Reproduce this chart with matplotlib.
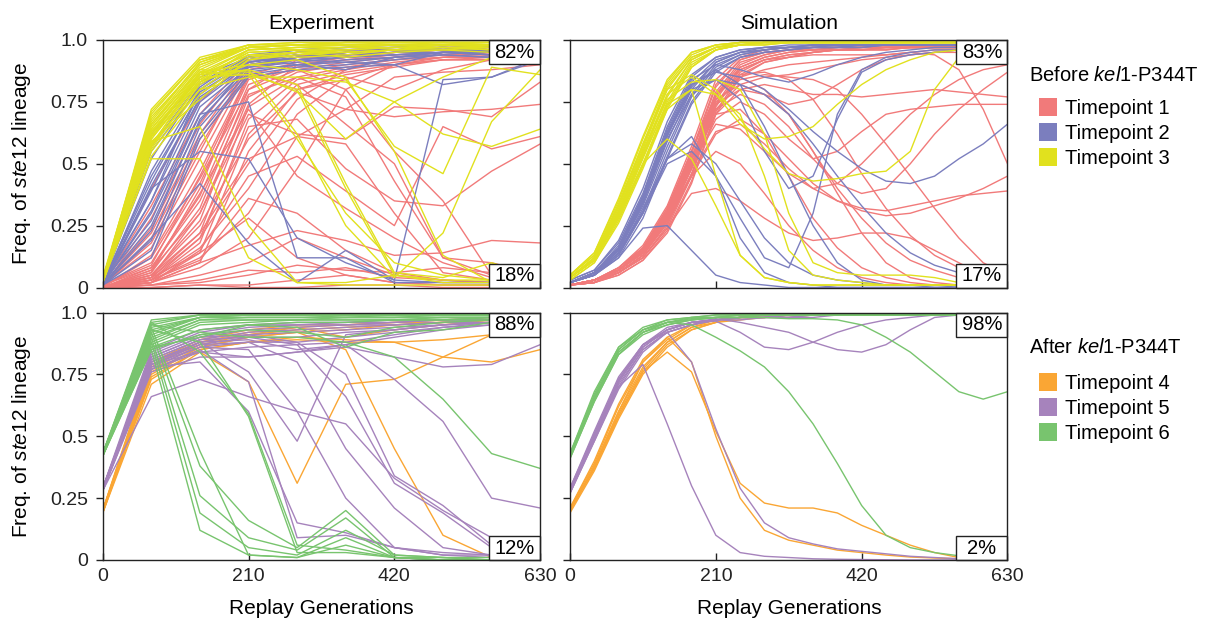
import matplotlib.pyplot as plt
from matplotlib.patches import Rectangle

plt.rcParams['font.family'] = ['Liberation Sans', 'DejaVu Sans']
plt.rcParams['mathtext.fontset'] = 'custom'
plt.rcParams['mathtext.rm'] = 'Liberation Sans'
plt.rcParams['mathtext.it'] = 'Liberation Sans:italic'

# ---------------- data ----------------
gens_exp = [0, 70, 140, 210, 280, 350, 420, 490, 560, 630]
gens_sim = [0, 35, 70, 105, 140, 175, 210, 245, 280, 315, 350, 385, 420, 455, 490, 525, 560, 595, 630]

# Before kel1-P344T, experiment
exp_tp1 = [
    [0.01, 0.40, 0.75, 0.93, 0.95, 0.96, 0.97, 0.97, 0.97, 0.97],
    [0.01, 0.33, 0.70, 0.92, 0.95, 0.96, 0.96, 0.97, 0.97, 0.96],
    [0.00, 0.28, 0.66, 0.91, 0.94, 0.95, 0.96, 0.97, 0.96, 0.96],
    [0.01, 0.24, 0.62, 0.90, 0.93, 0.95, 0.96, 0.96, 0.96, 0.95],
    [0.00, 0.20, 0.57, 0.89, 0.93, 0.94, 0.95, 0.96, 0.96, 0.95],
    [0.01, 0.16, 0.52, 0.88, 0.92, 0.94, 0.95, 0.96, 0.95, 0.95],
    [0.00, 0.13, 0.47, 0.86, 0.91, 0.93, 0.94, 0.95, 0.95, 0.94],
    [0.01, 0.10, 0.42, 0.84, 0.90, 0.92, 0.94, 0.95, 0.95, 0.94],
    [0.00, 0.08, 0.37, 0.82, 0.89, 0.92, 0.93, 0.95, 0.94, 0.93],
    [0.00, 0.06, 0.32, 0.80, 0.88, 0.91, 0.93, 0.94, 0.94, 0.93],
    [0.00, 0.05, 0.27, 0.77, 0.87, 0.90, 0.92, 0.94, 0.94, 0.93],
    [0.00, 0.04, 0.22, 0.73, 0.85, 0.89, 0.92, 0.93, 0.93, 0.92],
    [0.00, 0.03, 0.18, 0.68, 0.84, 0.88, 0.91, 0.93, 0.93, 0.92],
    [0.00, 0.02, 0.14, 0.62, 0.82, 0.87, 0.90, 0.92, 0.92, 0.91],
    [0.00, 0.02, 0.10, 0.55, 0.80, 0.86, 0.89, 0.92, 0.92, 0.91],
    [0.00, 0.12, 0.44, 0.80, 0.92, 0.95, 0.96, 0.96, 0.97, 0.96],
    [0.01, 0.18, 0.55, 0.91, 0.94, 0.93, 0.95, 0.96, 0.96, 0.95],
    [0.00, 0.07, 0.30, 0.74, 0.90, 0.93, 0.95, 0.96, 0.96, 0.95],
    [0.00, 0.04, 0.20, 0.50, 0.76, 0.88, 0.93, 0.95, 0.95, 0.94],
    [0.01, 0.22, 0.60, 0.86, 0.80, 0.84, 0.90, 0.93, 0.95, 0.95],
    [0.00, 0.05, 0.25, 0.60, 0.79, 0.72, 0.69, 0.71, 0.72, 0.74],
    [0.00, 0.04, 0.30, 0.70, 0.62, 0.60, 0.73, 0.72, 0.69, 0.83],
    [0.01, 0.08, 0.35, 0.78, 0.85, 0.77, 0.43, 0.12, 0.10, 0.05],
    [0.00, 0.03, 0.20, 0.65, 0.68, 0.48, 0.35, 0.33, 0.47, 0.58],
    [0.00, 0.06, 0.40, 0.87, 0.82, 0.66, 0.50, 0.12, 0.05, 0.04],
    [0.00, 0.02, 0.15, 0.45, 0.53, 0.39, 0.25, 0.65, 0.56, 0.61],
    [0.00, 0.03, 0.12, 0.30, 0.61, 0.72, 0.85, 0.87, 0.88, 0.90],
    [0.00, 0.02, 0.08, 0.20, 0.48, 0.80, 0.90, 0.92, 0.93, 0.94],
    [0.00, 0.03, 0.16, 0.40, 0.70, 0.85, 0.80, 0.88, 0.92, 0.93],
    [0.00, 0.02, 0.10, 0.17, 0.23, 0.19, 0.13, 0.14, 0.19, 0.18],
    [0.00, 0.01, 0.05, 0.10, 0.20, 0.12, 0.05, 0.03, 0.02, 0.02],
    [0.00, 0.01, 0.03, 0.07, 0.06, 0.08, 0.04, 0.03, 0.02, 0.03],
    [0.00, 0.00, 0.01, 0.01, 0.03, 0.05, 0.02, 0.01, 0.01, 0.01],
    [0.00, 0.00, 0.01, 0.00, 0.00, 0.01, 0.01, 0.00, 0.00, 0.00],
    [0.00, 0.01, 0.02, 0.05, 0.09, 0.07, 0.06, 0.08, 0.06, 0.05],
    [0.00, 0.04, 0.14, 0.28, 0.12, 0.05, 0.02, 0.01, 0.01, 0.01],
    [0.01, 0.09, 0.45, 0.85, 0.88, 0.80, 0.55, 0.35, 0.05, 0.03],
    [0.00, 0.07, 0.38, 0.72, 0.45, 0.32, 0.20, 0.10, 0.04, 0.02],
    [0.00, 0.05, 0.22, 0.52, 0.61, 0.58, 0.30, 0.06, 0.03, 0.02],
    [0.00, 0.03, 0.11, 0.36, 0.30, 0.15, 0.06, 0.03, 0.02, 0.01],
]
exp_tp2 = [
    [0.02, 0.62, 0.85, 0.93, 0.96, 0.97, 0.97, 0.98, 0.97, 0.97],
    [0.03, 0.57, 0.83, 0.93, 0.95, 0.96, 0.97, 0.97, 0.97, 0.96],
    [0.02, 0.52, 0.82, 0.92, 0.95, 0.96, 0.96, 0.97, 0.96, 0.96],
    [0.01, 0.47, 0.80, 0.92, 0.94, 0.95, 0.96, 0.97, 0.96, 0.95],
    [0.02, 0.43, 0.79, 0.91, 0.93, 0.95, 0.96, 0.96, 0.95, 0.95],
    [0.01, 0.39, 0.77, 0.90, 0.93, 0.94, 0.95, 0.96, 0.95, 0.94],
    [0.02, 0.35, 0.75, 0.90, 0.92, 0.94, 0.95, 0.95, 0.95, 0.94],
    [0.01, 0.31, 0.73, 0.89, 0.92, 0.93, 0.94, 0.95, 0.94, 0.94],
    [0.02, 0.27, 0.70, 0.89, 0.91, 0.93, 0.94, 0.95, 0.94, 0.93],
    [0.01, 0.23, 0.68, 0.88, 0.90, 0.92, 0.93, 0.95, 0.94, 0.93],
    [0.01, 0.19, 0.65, 0.87, 0.90, 0.91, 0.93, 0.94, 0.93, 0.92],
    [0.01, 0.15, 0.62, 0.86, 0.89, 0.90, 0.92, 0.94, 0.93, 0.92],
    [0.01, 0.12, 0.60, 0.85, 0.88, 0.89, 0.90, 0.95, 0.96, 0.97],
    [0.02, 0.55, 0.81, 0.94, 0.96, 0.97, 0.98, 0.98, 0.97, 0.97],
    [0.01, 0.41, 0.76, 0.91, 0.94, 0.95, 0.96, 0.96, 0.96, 0.96],
    [0.01, 0.25, 0.67, 0.90, 0.93, 0.95, 0.96, 0.97, 0.96, 0.95],
    [0.02, 0.40, 0.55, 0.52, 0.20, 0.10, 0.03, 0.84, 0.85, 0.93],
    [0.01, 0.30, 0.70, 0.75, 0.12, 0.12, 0.02, 0.02, 0.02, 0.02],
    [0.01, 0.20, 0.42, 0.18, 0.02, 0.15, 0.03, 0.02, 0.02, 0.02],
    [0.02, 0.45, 0.78, 0.92, 0.92, 0.91, 0.90, 0.82, 0.85, 0.92],
    [0.01, 0.35, 0.80, 0.93, 0.90, 0.88, 0.93, 0.95, 0.96, 0.97],
]
exp_tp3 = [
    [0.03, 0.72, 0.93, 0.98, 0.99, 0.99, 0.99, 0.99, 0.99, 0.99],
    [0.04, 0.70, 0.92, 0.98, 0.99, 0.99, 0.99, 0.99, 0.99, 0.99],
    [0.03, 0.68, 0.91, 0.98, 0.98, 0.99, 0.99, 0.99, 0.99, 0.99],
    [0.02, 0.66, 0.90, 0.97, 0.98, 0.99, 0.99, 0.99, 0.99, 0.99],
    [0.03, 0.65, 0.89, 0.97, 0.98, 0.98, 0.99, 0.99, 0.98, 0.98],
    [0.02, 0.64, 0.88, 0.97, 0.98, 0.98, 0.98, 0.98, 0.98, 0.98],
    [0.04, 0.62, 0.87, 0.96, 0.97, 0.98, 0.98, 0.98, 0.98, 0.98],
    [0.03, 0.61, 0.86, 0.96, 0.97, 0.97, 0.98, 0.98, 0.98, 0.97],
    [0.02, 0.60, 0.85, 0.95, 0.96, 0.97, 0.97, 0.98, 0.97, 0.97],
    [0.03, 0.58, 0.84, 0.95, 0.96, 0.96, 0.97, 0.97, 0.97, 0.97],
    [0.02, 0.57, 0.82, 0.94, 0.95, 0.96, 0.97, 0.97, 0.96, 0.96],
    [0.03, 0.55, 0.80, 0.93, 0.95, 0.95, 0.96, 0.97, 0.96, 0.96],
    [0.02, 0.53, 0.78, 0.92, 0.94, 0.95, 0.96, 0.96, 0.95, 0.95],
    [0.03, 0.67, 0.91, 0.97, 0.96, 0.95, 0.96, 0.98, 0.98, 0.98],
    [0.02, 0.63, 0.86, 0.94, 0.93, 0.94, 0.96, 0.97, 0.97, 0.96],
    [0.03, 0.59, 0.76, 0.92, 0.95, 0.93, 0.95, 0.96, 0.97, 0.97],
    [0.03, 0.71, 0.92, 0.97, 0.98, 0.99, 0.99, 0.99, 0.98, 0.98],
    [0.02, 0.69, 0.90, 0.97, 0.98, 0.98, 0.98, 0.99, 0.99, 0.98],
    [0.03, 0.56, 0.83, 0.96, 0.97, 0.97, 0.98, 0.98, 0.97, 0.97],
    [0.03, 0.52, 0.52, 0.12, 0.02, 0.01, 0.01, 0.01, 0.01, 0.01],
    [0.03, 0.59, 0.65, 0.25, 0.02, 0.02, 0.05, 0.03, 0.03, 0.03],
    [0.03, 0.66, 0.88, 0.87, 0.79, 0.60, 0.75, 0.85, 0.93, 0.97],
    [0.03, 0.64, 0.87, 0.90, 0.88, 0.84, 0.57, 0.46, 0.89, 0.86],
    [0.02, 0.60, 0.84, 0.88, 0.62, 0.25, 0.04, 0.22, 0.67, 0.88],
    [0.03, 0.58, 0.80, 0.85, 0.85, 0.83, 0.75, 0.62, 0.57, 0.64],
    [0.03, 0.62, 0.86, 0.88, 0.82, 0.42, 0.06, 0.04, 0.10, 0.04],
    [0.02, 0.57, 0.87, 0.86, 0.60, 0.30, 0.10, 0.05, 0.03, 0.03],
    [0.03, 0.61, 0.83, 0.90, 0.92, 0.85, 0.55, 0.13, 0.02, 0.02],
    [0.03, 0.63, 0.85, 0.86, 0.80, 0.40, 0.05, 0.02, 0.02, 0.02],
]

# Before kel1-P344T, simulation
sim_tp1 = [
    [0.01, 0.03, 0.08, 0.17, 0.33, 0.57, 0.84, 0.93, 0.96, 0.97, 0.97, 0.97, 0.97, 0.97, 0.97, 0.97, 0.97, 0.97, 0.97],
    [0.01, 0.03, 0.08, 0.16, 0.31, 0.55, 0.82, 0.92, 0.95, 0.96, 0.97, 0.97, 0.97, 0.97, 0.97, 0.97, 0.97, 0.97, 0.97],
    [0.01, 0.03, 0.07, 0.15, 0.30, 0.54, 0.81, 0.92, 0.95, 0.96, 0.97, 0.97, 0.97, 0.97, 0.97, 0.97, 0.97, 0.97, 0.97],
    [0.01, 0.03, 0.07, 0.14, 0.29, 0.52, 0.79, 0.91, 0.94, 0.96, 0.96, 0.97, 0.97, 0.97, 0.97, 0.97, 0.97, 0.97, 0.97],
    [0.01, 0.03, 0.07, 0.14, 0.28, 0.51, 0.78, 0.90, 0.94, 0.96, 0.96, 0.97, 0.97, 0.97, 0.97, 0.97, 0.97, 0.97, 0.97],
    [0.01, 0.02, 0.06, 0.13, 0.27, 0.49, 0.77, 0.89, 0.93, 0.95, 0.96, 0.96, 0.97, 0.97, 0.97, 0.97, 0.97, 0.97, 0.97],
    [0.01, 0.02, 0.06, 0.13, 0.26, 0.48, 0.76, 0.89, 0.93, 0.95, 0.96, 0.96, 0.97, 0.97, 0.97, 0.97, 0.97, 0.97, 0.97],
    [0.01, 0.02, 0.06, 0.12, 0.25, 0.46, 0.74, 0.88, 0.92, 0.94, 0.95, 0.96, 0.96, 0.97, 0.97, 0.97, 0.97, 0.97, 0.97],
    [0.01, 0.02, 0.06, 0.12, 0.24, 0.45, 0.73, 0.87, 0.92, 0.94, 0.95, 0.96, 0.96, 0.97, 0.97, 0.97, 0.97, 0.97, 0.97],
    [0.01, 0.02, 0.05, 0.11, 0.23, 0.43, 0.71, 0.86, 0.91, 0.93, 0.95, 0.96, 0.96, 0.96, 0.97, 0.97, 0.97, 0.97, 0.97],
    [0.01, 0.02, 0.05, 0.11, 0.22, 0.42, 0.70, 0.85, 0.91, 0.93, 0.95, 0.96, 0.96, 0.96, 0.97, 0.97, 0.97, 0.97, 0.97],
    [0.01, 0.03, 0.07, 0.16, 0.32, 0.55, 0.78, 0.88, 0.92, 0.93, 0.94, 0.94, 0.94, 0.94, 0.95, 0.94, 0.88, 0.72, 0.50],
    [0.01, 0.03, 0.07, 0.15, 0.30, 0.52, 0.72, 0.78, 0.74, 0.65, 0.52, 0.42, 0.38, 0.40, 0.50, 0.62, 0.72, 0.80, 0.87],
    [0.01, 0.03, 0.07, 0.15, 0.29, 0.50, 0.70, 0.80, 0.82, 0.80, 0.78, 0.78, 0.77, 0.78, 0.79, 0.80, 0.79, 0.78, 0.77],
    [0.01, 0.03, 0.07, 0.14, 0.28, 0.48, 0.68, 0.75, 0.70, 0.60, 0.52, 0.55, 0.63, 0.70, 0.72, 0.73, 0.74, 0.74, 0.74],
    [0.01, 0.03, 0.06, 0.13, 0.26, 0.45, 0.62, 0.68, 0.62, 0.52, 0.42, 0.35, 0.31, 0.29, 0.30, 0.33, 0.36, 0.40, 0.45],
    [0.01, 0.03, 0.06, 0.13, 0.27, 0.46, 0.63, 0.66, 0.58, 0.48, 0.40, 0.35, 0.32, 0.31, 0.33, 0.35, 0.37, 0.38, 0.39],
    [0.01, 0.02, 0.06, 0.12, 0.24, 0.38, 0.40, 0.35, 0.28, 0.22, 0.19, 0.20, 0.22, 0.22, 0.20, 0.15, 0.10, 0.05, 0.03],
    [0.01, 0.03, 0.07, 0.14, 0.28, 0.45, 0.55, 0.50, 0.38, 0.25, 0.15, 0.08, 0.04, 0.02, 0.01, 0.01, 0.01, 0.01, 0.01],
    [0.01, 0.03, 0.07, 0.15, 0.30, 0.52, 0.70, 0.72, 0.62, 0.45, 0.28, 0.16, 0.08, 0.04, 0.02, 0.01, 0.01, 0.01, 0.01],
    [0.01, 0.03, 0.07, 0.15, 0.31, 0.53, 0.74, 0.80, 0.78, 0.70, 0.55, 0.40, 0.28, 0.18, 0.11, 0.07, 0.04, 0.03, 0.02],
    [0.01, 0.03, 0.08, 0.16, 0.32, 0.55, 0.78, 0.86, 0.87, 0.84, 0.76, 0.62, 0.46, 0.32, 0.21, 0.13, 0.08, 0.05, 0.03],
    [0.01, 0.03, 0.07, 0.15, 0.30, 0.52, 0.75, 0.84, 0.86, 0.85, 0.84, 0.80, 0.70, 0.58, 0.45, 0.32, 0.20, 0.10, 0.05],
    [0.01, 0.03, 0.07, 0.14, 0.28, 0.48, 0.72, 0.82, 0.85, 0.86, 0.88, 0.90, 0.92, 0.93, 0.94, 0.95, 0.95, 0.95, 0.95],
    [0.01, 0.03, 0.07, 0.15, 0.30, 0.52, 0.78, 0.85, 0.80, 0.70, 0.55, 0.38, 0.22, 0.10, 0.04, 0.02, 0.01, 0.01, 0.01],
    [0.01, 0.03, 0.07, 0.14, 0.29, 0.50, 0.74, 0.85, 0.88, 0.90, 0.91, 0.92, 0.93, 0.94, 0.95, 0.96, 0.96, 0.96, 0.96],
    [0.01, 0.03, 0.07, 0.15, 0.30, 0.52, 0.76, 0.82, 0.78, 0.74, 0.76, 0.82, 0.88, 0.92, 0.94, 0.95, 0.96, 0.96, 0.96],
    [0.01, 0.03, 0.07, 0.14, 0.28, 0.50, 0.66, 0.64, 0.55, 0.46, 0.40, 0.42, 0.50, 0.60, 0.70, 0.78, 0.84, 0.88, 0.90],
]
sim_tp2 = [
    [0.03, 0.07, 0.19, 0.40, 0.67, 0.86, 0.93, 0.96, 0.97, 0.98, 0.98, 0.98, 0.98, 0.98, 0.98, 0.98, 0.98, 0.98, 0.98],
    [0.03, 0.07, 0.18, 0.38, 0.65, 0.85, 0.93, 0.96, 0.97, 0.97, 0.98, 0.98, 0.98, 0.98, 0.98, 0.98, 0.98, 0.98, 0.98],
    [0.02, 0.06, 0.17, 0.37, 0.63, 0.83, 0.92, 0.95, 0.97, 0.97, 0.98, 0.98, 0.98, 0.98, 0.98, 0.98, 0.98, 0.98, 0.98],
    [0.02, 0.06, 0.16, 0.35, 0.61, 0.81, 0.91, 0.95, 0.96, 0.97, 0.98, 0.98, 0.98, 0.98, 0.98, 0.98, 0.98, 0.98, 0.98],
    [0.02, 0.06, 0.15, 0.34, 0.59, 0.80, 0.91, 0.95, 0.96, 0.97, 0.97, 0.98, 0.98, 0.98, 0.98, 0.98, 0.98, 0.98, 0.98],
    [0.02, 0.05, 0.15, 0.33, 0.57, 0.78, 0.90, 0.94, 0.96, 0.97, 0.97, 0.97, 0.98, 0.98, 0.98, 0.98, 0.98, 0.98, 0.98],
    [0.02, 0.05, 0.14, 0.31, 0.55, 0.77, 0.89, 0.94, 0.96, 0.97, 0.97, 0.97, 0.98, 0.98, 0.98, 0.98, 0.98, 0.98, 0.98],
    [0.02, 0.05, 0.13, 0.30, 0.53, 0.75, 0.88, 0.93, 0.95, 0.96, 0.97, 0.97, 0.97, 0.98, 0.98, 0.98, 0.98, 0.98, 0.98],
    [0.02, 0.05, 0.12, 0.28, 0.52, 0.74, 0.87, 0.93, 0.95, 0.96, 0.97, 0.97, 0.97, 0.98, 0.98, 0.98, 0.98, 0.98, 0.98],
    [0.02, 0.05, 0.12, 0.24, 0.25, 0.15, 0.05, 0.02, 0.01, 0.00, 0.00, 0.00, 0.00, 0.00, 0.00, 0.00, 0.00, 0.00, 0.00],
    [0.02, 0.05, 0.14, 0.30, 0.52, 0.61, 0.45, 0.20, 0.06, 0.02, 0.01, 0.00, 0.00, 0.00, 0.00, 0.00, 0.00, 0.00, 0.00],
    [0.02, 0.05, 0.13, 0.30, 0.50, 0.55, 0.45, 0.28, 0.12, 0.08, 0.30, 0.70, 0.88, 0.93, 0.95, 0.96, 0.96, 0.97, 0.97],
    [0.02, 0.06, 0.15, 0.35, 0.62, 0.80, 0.84, 0.76, 0.55, 0.40, 0.45, 0.68, 0.87, 0.92, 0.94, 0.95, 0.96, 0.97, 0.97],
    [0.02, 0.06, 0.16, 0.36, 0.62, 0.82, 0.87, 0.85, 0.80, 0.72, 0.63, 0.55, 0.48, 0.43, 0.42, 0.45, 0.52, 0.58, 0.66],
    [0.02, 0.06, 0.15, 0.34, 0.60, 0.78, 0.84, 0.82, 0.78, 0.70, 0.58, 0.45, 0.33, 0.22, 0.14, 0.09, 0.06, 0.05, 0.04],
    [0.02, 0.06, 0.16, 0.36, 0.62, 0.82, 0.88, 0.82, 0.65, 0.45, 0.25, 0.10, 0.03, 0.01, 0.01, 0.00, 0.00, 0.00, 0.00],
    [0.02, 0.06, 0.16, 0.37, 0.64, 0.84, 0.90, 0.88, 0.85, 0.83, 0.86, 0.90, 0.93, 0.95, 0.96, 0.97, 0.97, 0.97, 0.97],
    [0.02, 0.05, 0.14, 0.32, 0.52, 0.58, 0.50, 0.35, 0.20, 0.10, 0.05, 0.03, 0.02, 0.01, 0.01, 0.01, 0.00, 0.00, 0.00],
]
sim_tp3 = [
    [0.05, 0.14, 0.36, 0.61, 0.84, 0.95, 0.98, 0.99, 0.99, 0.99, 0.99, 0.99, 0.99, 0.99, 0.99, 0.99, 0.99, 0.99, 0.99],
    [0.05, 0.14, 0.35, 0.60, 0.83, 0.95, 0.98, 0.99, 0.99, 0.99, 0.99, 0.99, 0.99, 0.99, 0.99, 0.99, 0.99, 0.99, 0.99],
    [0.05, 0.13, 0.34, 0.58, 0.82, 0.94, 0.98, 0.99, 0.99, 0.99, 0.99, 0.99, 0.99, 0.99, 0.99, 0.99, 0.99, 0.99, 0.99],
    [0.04, 0.12, 0.33, 0.57, 0.81, 0.93, 0.97, 0.99, 0.99, 0.99, 0.99, 0.99, 0.99, 0.99, 0.99, 0.99, 0.99, 0.99, 0.99],
    [0.04, 0.12, 0.32, 0.56, 0.80, 0.93, 0.97, 0.99, 0.99, 0.99, 0.99, 0.99, 0.99, 0.99, 0.99, 0.99, 0.99, 0.99, 0.99],
    [0.04, 0.12, 0.31, 0.54, 0.78, 0.92, 0.97, 0.98, 0.99, 0.99, 0.99, 0.99, 0.99, 0.99, 0.99, 0.99, 0.99, 0.99, 0.99],
    [0.04, 0.11, 0.30, 0.53, 0.77, 0.92, 0.97, 0.98, 0.99, 0.99, 0.99, 0.99, 0.99, 0.99, 0.99, 0.99, 0.99, 0.99, 0.99],
    [0.04, 0.11, 0.29, 0.52, 0.75, 0.91, 0.96, 0.98, 0.99, 0.99, 0.99, 0.99, 0.99, 0.99, 0.99, 0.99, 0.99, 0.99, 0.99],
    [0.04, 0.11, 0.28, 0.50, 0.74, 0.90, 0.96, 0.98, 0.99, 0.99, 0.99, 0.99, 0.99, 0.99, 0.99, 0.99, 0.99, 0.99, 0.99],
    [0.03, 0.10, 0.27, 0.49, 0.73, 0.89, 0.96, 0.98, 0.98, 0.99, 0.99, 0.99, 0.99, 0.99, 0.99, 0.99, 0.99, 0.99, 0.99],
    [0.03, 0.10, 0.26, 0.48, 0.72, 0.89, 0.96, 0.98, 0.98, 0.99, 0.99, 0.99, 0.99, 0.99, 0.99, 0.99, 0.99, 0.99, 0.99],
    [0.04, 0.11, 0.28, 0.50, 0.72, 0.80, 0.45, 0.13, 0.04, 0.02, 0.01, 0.01, 0.01, 0.01, 0.01, 0.01, 0.01, 0.01, 0.01],
    [0.04, 0.11, 0.29, 0.50, 0.60, 0.52, 0.33, 0.13, 0.04, 0.02, 0.01, 0.01, 0.01, 0.01, 0.01, 0.01, 0.01, 0.01, 0.01],
    [0.04, 0.12, 0.30, 0.55, 0.78, 0.85, 0.78, 0.66, 0.60, 0.61, 0.65, 0.74, 0.82, 0.88, 0.92, 0.95, 0.96, 0.97, 0.97],
    [0.05, 0.13, 0.33, 0.58, 0.80, 0.86, 0.80, 0.68, 0.56, 0.46, 0.43, 0.44, 0.46, 0.47, 0.55, 0.80, 0.93, 0.95, 0.96],
    [0.04, 0.12, 0.31, 0.55, 0.76, 0.83, 0.84, 0.80, 0.62, 0.30, 0.10, 0.06, 0.05, 0.05, 0.05, 0.04, 0.02, 0.02, 0.02],
    [0.04, 0.11, 0.30, 0.53, 0.74, 0.80, 0.78, 0.70, 0.45, 0.15, 0.05, 0.03, 0.02, 0.01, 0.01, 0.01, 0.01, 0.01, 0.01],
]

# After kel1-P344T, experiment
exp_tp4 = [
    [0.20, 0.80, 0.89, 0.93, 0.95, 0.95, 0.96, 0.97, 0.98, 0.98],
    [0.19, 0.78, 0.88, 0.92, 0.94, 0.95, 0.96, 0.96, 0.97, 0.98],
    [0.20, 0.77, 0.87, 0.91, 0.93, 0.94, 0.95, 0.96, 0.97, 0.97],
    [0.19, 0.75, 0.86, 0.90, 0.92, 0.93, 0.95, 0.96, 0.96, 0.97],
    [0.20, 0.73, 0.85, 0.88, 0.89, 0.88, 0.88, 0.89, 0.91, 0.91],
    [0.19, 0.71, 0.84, 0.72, 0.31, 0.71, 0.73, 0.82, 0.91, 0.94],
    [0.20, 0.76, 0.86, 0.90, 0.92, 0.85, 0.45, 0.10, 0.01, 0.00],
    [0.19, 0.74, 0.85, 0.88, 0.90, 0.89, 0.88, 0.82, 0.80, 0.85],
    [0.20, 0.79, 0.88, 0.91, 0.94, 0.90, 0.93, 0.95, 0.97, 0.98],
]
exp_tp5 = [
    [0.29, 0.85, 0.93, 0.95, 0.96, 0.96, 0.97, 0.97, 0.98, 0.98],
    [0.28, 0.84, 0.92, 0.95, 0.95, 0.96, 0.96, 0.97, 0.97, 0.98],
    [0.29, 0.83, 0.91, 0.94, 0.95, 0.95, 0.96, 0.97, 0.97, 0.97],
    [0.28, 0.82, 0.90, 0.93, 0.94, 0.95, 0.95, 0.96, 0.97, 0.97],
    [0.29, 0.81, 0.89, 0.92, 0.93, 0.94, 0.95, 0.96, 0.96, 0.97],
    [0.28, 0.80, 0.88, 0.91, 0.92, 0.93, 0.94, 0.95, 0.96, 0.96],
    [0.29, 0.79, 0.87, 0.90, 0.90, 0.92, 0.93, 0.95, 0.96, 0.96],
    [0.28, 0.78, 0.86, 0.88, 0.88, 0.90, 0.92, 0.94, 0.96, 0.96],
    [0.29, 0.77, 0.84, 0.86, 0.87, 0.88, 0.91, 0.94, 0.95, 0.96],
    [0.28, 0.76, 0.82, 0.82, 0.84, 0.87, 0.90, 0.93, 0.95, 0.96],
    [0.28, 0.66, 0.73, 0.66, 0.60, 0.55, 0.33, 0.20, 0.09, 0.05],
    [0.29, 0.80, 0.88, 0.76, 0.48, 0.91, 0.93, 0.95, 0.96, 0.97],
    [0.28, 0.82, 0.90, 0.91, 0.88, 0.75, 0.34, 0.22, 0.06, 0.03],
    [0.29, 0.81, 0.89, 0.90, 0.87, 0.66, 0.31, 0.19, 0.05, 0.02],
    [0.28, 0.78, 0.80, 0.60, 0.15, 0.11, 0.05, 0.03, 0.02, 0.02],
    [0.29, 0.77, 0.85, 0.72, 0.09, 0.10, 0.05, 0.02, 0.02, 0.01],
    [0.28, 0.80, 0.87, 0.88, 0.80, 0.45, 0.21, 0.05, 0.02, 0.01],
    [0.29, 0.79, 0.86, 0.85, 0.60, 0.25, 0.05, 0.02, 0.01, 0.01],
    [0.28, 0.79, 0.84, 0.82, 0.84, 0.86, 0.82, 0.78, 0.79, 0.87],
    [0.29, 0.80, 0.88, 0.89, 0.85, 0.87, 0.73, 0.56, 0.25, 0.21],
]
exp_tp6 = [
    [0.43, 0.97, 0.99, 0.99, 0.99, 0.99, 0.99, 0.99, 0.99, 0.99],
    [0.43, 0.96, 0.99, 0.99, 0.99, 0.99, 0.99, 0.99, 0.99, 0.99],
    [0.42, 0.95, 0.99, 0.99, 0.99, 0.99, 0.99, 0.99, 0.99, 0.99],
    [0.43, 0.94, 0.98, 0.99, 0.99, 0.99, 0.99, 0.99, 0.99, 0.99],
    [0.42, 0.93, 0.98, 0.99, 0.99, 0.98, 0.99, 0.99, 0.99, 0.99],
    [0.43, 0.92, 0.98, 0.98, 0.98, 0.98, 0.98, 0.99, 0.99, 0.99],
    [0.42, 0.91, 0.98, 0.98, 0.98, 0.98, 0.98, 0.98, 0.98, 0.98],
    [0.43, 0.90, 0.97, 0.98, 0.98, 0.98, 0.98, 0.98, 0.98, 0.98],
    [0.42, 0.89, 0.97, 0.97, 0.97, 0.98, 0.98, 0.98, 0.98, 0.98],
    [0.43, 0.88, 0.96, 0.97, 0.97, 0.97, 0.97, 0.98, 0.98, 0.98],
    [0.42, 0.87, 0.95, 0.96, 0.97, 0.97, 0.97, 0.97, 0.98, 0.97],
    [0.43, 0.86, 0.93, 0.95, 0.96, 0.96, 0.97, 0.97, 0.97, 0.97],
    [0.42, 0.85, 0.91, 0.93, 0.92, 0.90, 0.94, 0.96, 0.97, 0.97],
    [0.43, 0.86, 0.90, 0.95, 0.94, 0.86, 0.92, 0.93, 0.96, 0.97],
    [0.43, 0.92, 0.38, 0.16, 0.05, 0.20, 0.02, 0.01, 0.01, 0.01],
    [0.42, 0.90, 0.26, 0.09, 0.04, 0.17, 0.01, 0.01, 0.00, 0.00],
    [0.43, 0.88, 0.19, 0.05, 0.02, 0.12, 0.02, 0.01, 0.00, 0.00],
    [0.42, 0.85, 0.12, 0.02, 0.01, 0.09, 0.01, 0.00, 0.00, 0.00],
    [0.43, 0.94, 0.44, 0.02, 0.01, 0.06, 0.01, 0.00, 0.00, 0.00],
    [0.42, 0.96, 0.84, 0.59, 0.06, 0.04, 0.01, 0.00, 0.00, 0.00],
    [0.43, 0.93, 0.88, 0.58, 0.03, 0.03, 0.01, 0.00, 0.00, 0.00],
    [0.42, 0.95, 0.92, 0.90, 0.90, 0.88, 0.82, 0.65, 0.43, 0.37],
]

# After kel1-P344T, simulation
sim_tp4 = [
    [0.21, 0.40, 0.63, 0.81, 0.90, 0.95, 0.97, 0.98, 0.99, 0.99, 0.99, 0.99, 0.99, 0.99, 0.99, 0.99, 0.99, 0.99, 0.99],
    [0.21, 0.39, 0.62, 0.80, 0.89, 0.95, 0.97, 0.98, 0.99, 0.99, 0.99, 0.99, 0.99, 0.99, 0.99, 0.99, 0.99, 0.99, 0.99],
    [0.20, 0.38, 0.60, 0.78, 0.88, 0.94, 0.97, 0.98, 0.98, 0.99, 0.99, 0.99, 0.99, 0.99, 0.99, 0.99, 0.99, 0.99, 0.99],
    [0.20, 0.37, 0.59, 0.77, 0.88, 0.94, 0.96, 0.98, 0.98, 0.99, 0.99, 0.99, 0.99, 0.99, 0.99, 0.99, 0.99, 0.99, 0.99],
    [0.20, 0.37, 0.58, 0.76, 0.87, 0.93, 0.96, 0.98, 0.98, 0.99, 0.99, 0.99, 0.99, 0.99, 0.99, 0.99, 0.99, 0.99, 0.99],
    [0.19, 0.36, 0.57, 0.75, 0.86, 0.93, 0.96, 0.97, 0.98, 0.98, 0.99, 0.99, 0.99, 0.99, 0.99, 0.99, 0.99, 0.99, 0.99],
    [0.20, 0.38, 0.60, 0.80, 0.90, 0.80, 0.50, 0.25, 0.12, 0.08, 0.06, 0.04, 0.03, 0.02, 0.012, 0.008, 0.005, 0.003, 0.002],
    [0.20, 0.37, 0.58, 0.76, 0.84, 0.76, 0.52, 0.31, 0.23, 0.21, 0.21, 0.19, 0.14, 0.10, 0.06, 0.03, 0.01, 0.005, 0.003],
]
sim_tp5 = [
    [0.29, 0.52, 0.74, 0.87, 0.94, 0.96, 0.97, 0.98, 0.98, 0.99, 0.99, 0.99, 0.99, 0.99, 0.99, 0.99, 0.99, 0.99, 0.99],
    [0.29, 0.51, 0.73, 0.87, 0.93, 0.96, 0.97, 0.98, 0.98, 0.99, 0.99, 0.99, 0.99, 0.99, 0.99, 0.99, 0.99, 0.99, 0.99],
    [0.28, 0.50, 0.72, 0.86, 0.93, 0.96, 0.97, 0.98, 0.98, 0.99, 0.99, 0.99, 0.99, 0.99, 0.99, 0.99, 0.99, 0.99, 0.99],
    [0.28, 0.49, 0.71, 0.85, 0.92, 0.95, 0.97, 0.98, 0.98, 0.98, 0.99, 0.99, 0.99, 0.99, 0.99, 0.99, 0.99, 0.99, 0.99],
    [0.27, 0.49, 0.70, 0.85, 0.92, 0.95, 0.97, 0.98, 0.98, 0.98, 0.99, 0.99, 0.99, 0.99, 0.99, 0.99, 0.99, 0.99, 0.99],
    [0.27, 0.48, 0.69, 0.84, 0.92, 0.95, 0.97, 0.97, 0.98, 0.98, 0.98, 0.99, 0.99, 0.99, 0.99, 0.99, 0.99, 0.99, 0.99],
    [0.27, 0.48, 0.70, 0.79, 0.55, 0.30, 0.10, 0.03, 0.015, 0.01, 0.005, 0.003, 0.002, 0.001, 0.0, 0.0, 0.0, 0.0, 0.0],
    [0.28, 0.50, 0.72, 0.87, 0.92, 0.80, 0.53, 0.29, 0.15, 0.09, 0.065, 0.045, 0.035, 0.025, 0.015, 0.01, 0.005, 0.003, 0.002],
    [0.28, 0.51, 0.73, 0.87, 0.93, 0.96, 0.965, 0.92, 0.86, 0.85, 0.88, 0.92, 0.95, 0.97, 0.98, 0.99, 0.99, 0.99, 0.99],
    [0.28, 0.50, 0.72, 0.86, 0.93, 0.96, 0.975, 0.96, 0.94, 0.92, 0.88, 0.85, 0.84, 0.87, 0.93, 0.98, 0.99, 0.99, 0.99],
]
sim_tp6 = [
    [0.43, 0.68, 0.86, 0.94, 0.97, 0.98, 0.99, 0.99, 0.99, 0.99, 0.99, 0.99, 0.99, 0.99, 0.99, 0.99, 0.99, 0.99, 0.99],
    [0.43, 0.67, 0.86, 0.93, 0.97, 0.98, 0.99, 0.99, 0.99, 0.99, 0.99, 0.99, 0.99, 0.99, 0.99, 0.99, 0.99, 0.99, 0.99],
    [0.42, 0.66, 0.85, 0.93, 0.96, 0.98, 0.98, 0.99, 0.99, 0.99, 0.99, 0.99, 0.99, 0.99, 0.99, 0.99, 0.99, 0.99, 0.99],
    [0.42, 0.65, 0.84, 0.92, 0.96, 0.97, 0.98, 0.99, 0.99, 0.99, 0.99, 0.99, 0.99, 0.99, 0.99, 0.99, 0.99, 0.99, 0.99],
    [0.41, 0.64, 0.83, 0.92, 0.95, 0.97, 0.98, 0.98, 0.99, 0.99, 0.99, 0.99, 0.99, 0.99, 0.99, 0.99, 0.99, 0.99, 0.99],
    [0.41, 0.64, 0.83, 0.91, 0.95, 0.97, 0.98, 0.98, 0.99, 0.99, 0.99, 0.99, 0.99, 0.99, 0.99, 0.99, 0.99, 0.99, 0.99],
    [0.42, 0.65, 0.84, 0.92, 0.96, 0.95, 0.90, 0.845, 0.78, 0.68, 0.55, 0.39, 0.22, 0.10, 0.05, 0.03, 0.017, 0.012, 0.01],
    [0.42, 0.66, 0.85, 0.93, 0.96, 0.975, 0.98, 0.98, 0.98, 0.975, 0.975, 0.97, 0.95, 0.90, 0.84, 0.76, 0.68, 0.65, 0.68],
]

colors = {
    'tp1': '#F17A7A', 'tp2': '#7B7EBE', 'tp3': '#E1E11E',
    'tp4': '#FAA634', 'tp5': '#A683BC', 'tp6': '#78C46E',
}
pct_labels = {
    'exp_before': ('82%', '18%'), 'sim_before': ('83%', '17%'),
    'exp_after': ('88%', '12%'), 'sim_after': ('98%', '2%'),
}

# ---------------- figure ----------------
fig = plt.figure(figsize=(12.05, 6.22), dpi=100)

W, H = 1205.0, 622.0
ax_w = 437.5 / W
ax_h = 247.5 / H
left_x = 102.7 / W
right_x = 570.0 / W
top_y = 1 - 287.5 / H
bot_y = 1 - 560.0 / H

ax_eb = fig.add_axes([left_x, top_y, ax_w, ax_h])
ax_sb = fig.add_axes([right_x, top_y, ax_w, ax_h])
ax_ea = fig.add_axes([left_x, bot_y, ax_w, ax_h])
ax_sa = fig.add_axes([right_x, bot_y, ax_w, ax_h])

panels = [
    (ax_eb, gens_exp, [(exp_tp1, 'tp1'), (exp_tp2, 'tp2'), (exp_tp3, 'tp3')], 'exp_before'),
    (ax_sb, gens_sim, [(sim_tp1, 'tp1'), (sim_tp2, 'tp2'), (sim_tp3, 'tp3')], 'sim_before'),
    (ax_ea, gens_exp, [(exp_tp4, 'tp4'), (exp_tp5, 'tp5'), (exp_tp6, 'tp6')], 'exp_after'),
    (ax_sa, gens_sim, [(sim_tp4, 'tp4'), (sim_tp5, 'tp5'), (sim_tp6, 'tp6')], 'sim_after'),
]

tick_fs = 14
for ax, gens, groups, key in panels:
    for lines, tp in groups:
        for ys in lines:
            ax.plot(gens, ys, color=colors[tp], lw=1.0)
    ax.set_xlim(0, 630)
    ax.set_ylim(0, 1)
    ax.set_xticks([0, 210, 420, 630])
    ax.set_yticks([0, 0.25, 0.5, 0.75, 1.0])
    ax.set_xticklabels(['0', '210', '420', '630'])
    ax.set_yticklabels(['0', '0.25', '0.5', '0.75', '1.0'])
    ax.tick_params(axis='x', direction='in', length=5, width=1, pad=6,
                   labelsize=tick_fs, colors='#222222')
    ax.tick_params(axis='y', direction='out', length=5, width=1, pad=5.5,
                   labelsize=tick_fs, colors='#222222')
    for sp in ax.spines.values():
        sp.set_linewidth(1.0)
        sp.set_color('#222222')
        sp.set_zorder(10)

    # percentage boxes
    top_txt, bot_txt = pct_labels[key]
    bw, bh = 51 / 437.5, 24 / 247.5
    for txt, y0 in [(top_txt, 1 - bh), (bot_txt, 0)]:
        ax.add_patch(Rectangle((1 - bw, y0), bw, bh, transform=ax.transAxes,
                               facecolor='white', edgecolor='#222222', lw=1.0,
                               zorder=8, clip_on=False))
        ax.text(1 - bw / 2, y0 + bh / 2, txt, transform=ax.transAxes,
                ha='center', va='center', fontsize=14.5, zorder=9)

ax_eb.tick_params(axis='x', labelbottom=False)
ax_sb.tick_params(axis='x', labelbottom=False)
ax_sb.tick_params(axis='y', labelleft=False)
ax_sa.tick_params(axis='y', labelleft=False)

# titles and axis labels
fig.text(321 / W, 1 - 28.6 / H, 'Experiment', ha='center', va='baseline', fontsize=15)
fig.text(789 / W, 1 - 28.6 / H, 'Simulation', ha='center', va='baseline', fontsize=15)
fig.text(321 / W, 1 - 614 / H, 'Replay Generations', ha='center', va='baseline', fontsize=15)
fig.text(789 / W, 1 - 614 / H, 'Replay Generations', ha='center', va='baseline', fontsize=15)
for yc in [163.75, 436.25]:
    fig.text(22 / W, 1 - yc / H, r'Freq. of $\mathit{ste12}$ lineage', rotation=90,
             ha='center', va='center', fontsize=15)

# legends
legend_groups = [
    (r'Before $\mathit{kel1}$-P344T', 80.7,
     [('tp1', 'Timepoint 1', 98.3, 114), ('tp2', 'Timepoint 2', 123.3, 139.3), ('tp3', 'Timepoint 3', 148.3, 164)]),
    (r'After $\mathit{kel1}$-P344T', 353.3,
     [('tp4', 'Timepoint 4', 373.3, 389.3), ('tp5', 'Timepoint 5', 398.3, 414.3), ('tp6', 'Timepoint 6', 423.3, 439.3)]),
]
for header, hy, items in legend_groups:
    fig.text(1029 / W, 1 - hy / H, header, ha='left', va='baseline', fontsize=14.5)
    for tp, label, ptop, base in items:
        fig.patches.append(Rectangle((1039 / W, 1 - (ptop + 17.4) / H), 17.7 / W, 17.4 / H,
                                     transform=fig.transFigure, facecolor=colors[tp],
                                     edgecolor='none'))
        fig.text(1065 / W, 1 - base / H, label, ha='left', va='baseline', fontsize=14.5)

fig.savefig('out.png', dpi=100)
